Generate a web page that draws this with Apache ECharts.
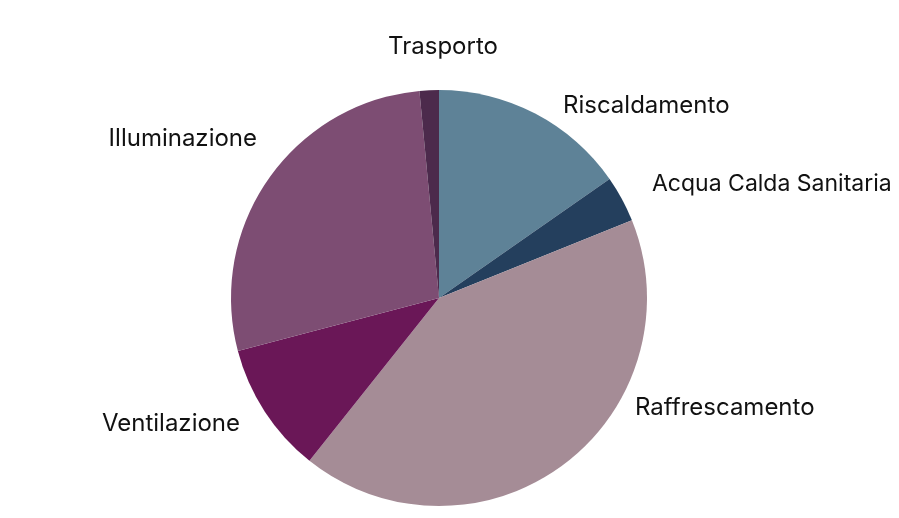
<!DOCTYPE html>
<html>
<head>
<meta charset="utf-8">
<script src="https://cdn.jsdelivr.net/npm/echarts@6/dist/echarts.min.js"></script>
<style>
  html, body { margin: 0; padding: 0; background: #fff; }
  #chart { width: 899px; height: 518px; }
</style>
</head>
<body>
<div id="chart"></div>
<script>
  // categories and shares (%), read clockwise from 12 o'clock
  var categories = ['Riscaldamento', 'Acqua Calda Sanitaria', 'Raffrescamento', 'Ventilazione', 'Illuminazione', 'Trasporto'];
  var values = [15.3, 3.6, 41.8, 10.2, 27.6, 1.5];
  var colors = ['#5e8297', '#243f5d', '#a58c96', '#6a1757', '#7d4d73', '#4c2a4c'];

  // where each label sits (like the spreadsheet layout, no leader lines)
  var labelSpots = {
    'Riscaldamento': [563, 106, 'left'],
    'Acqua Calda Sanitaria': [652, 184, 'left'],
    'Raffrescamento': [635, 408, 'left'],
    'Ventilazione': [240, 424, 'right'],
    'Illuminazione': [257, 139, 'right'],
    'Trasporto': [443, 47, 'center']
  };

  var chart = echarts.init(document.getElementById('chart'));
  var data = [];
  for (var i = 0; i < categories.length; i++) {
    var item = { name: categories[i], value: values[i], itemStyle: { color: colors[i] } };
    // the long one is set a touch tighter so it fits like the original
    if (categories[i] === 'Acqua Calda Sanitaria') item.label = { fontSize: 23 };
    data.push(item);
  }
  chart.setOption({
    animation: false,
    series: [
      {
        type: 'pie',
        center: [439, 298],
        radius: 208,
        startAngle: 90,
        clockwise: true,
        data: data,
        itemStyle: { borderWidth: 0 },
        label: {
          show: true,
          position: 'outside',
          color: '#111',
          fontFamily: 'Inter',
          fontSize: 24,
          overflow: 'none',
          formatter: '{b}'
        },
        labelLine: { show: false },
        labelLayout: function (params) {
          var s = labelSpots[categories[params.dataIndex]];
          return { x: s[0], y: s[1], align: s[2], verticalAlign: 'middle' };
        }
      }
    ]
  });
</script>
</body>
</html>
